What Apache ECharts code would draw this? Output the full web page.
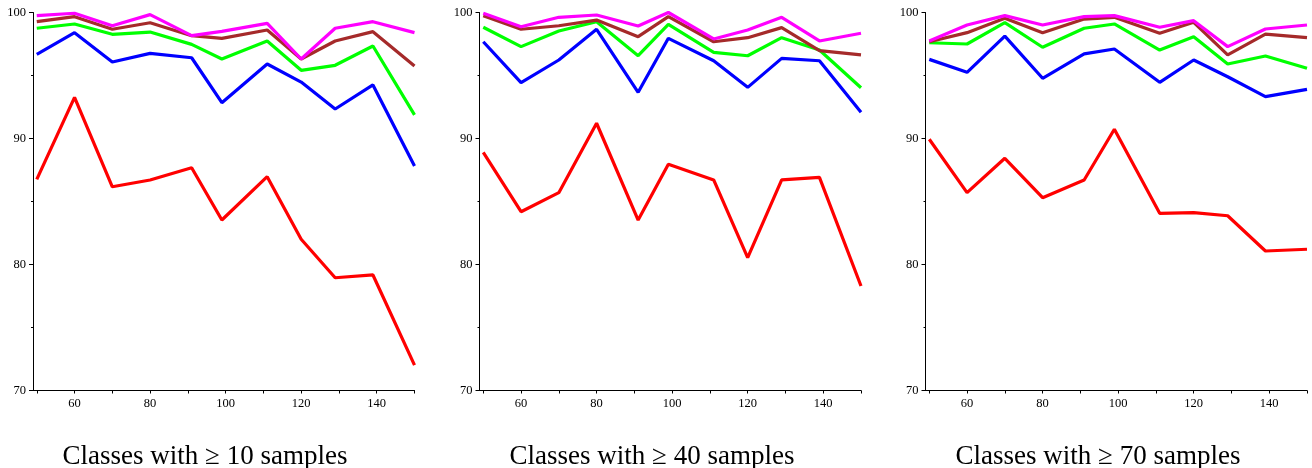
<!DOCTYPE html>
<html>
<head>
<meta charset="utf-8">
<script src="https://cdn.jsdelivr.net/npm/echarts@6/dist/echarts.min.js"></script>
<style>
  html, body { margin: 0; padding: 0; background: #fff; }
  #chart { width: 1312px; height: 468px; }
</style>
</head>
<body>
<div id="chart"></div>
<script>
// x positions of the samples (same for all three panels)
const xs = [50, 60, 70, 80, 91, 99, 111, 120, 129, 139, 150];
const xTicks = [50, 60, 70, 80, 90, 100, 110, 120, 130, 140, 150];
const xLabels = [60, 80, 100, 120, 140];
const titles = ["Classes with \u2265 10 samples", "Classes with \u2265 40 samples", "Classes with \u2265 70 samples"];

// >= 10 samples
const magenta10 = [99.75, 99.94, 98.95, 99.83, 98.16, 98.5, 99.14, 96.31, 98.75, 99.27, 98.4];
const brown10 = [99.27, 99.67, 98.67, 99.19, 98.16, 97.95, 98.61, 96.31, 97.74, 98.48, 95.75];
const green10 = [98.75, 99.09, 98.27, 98.45, 97.47, 96.31, 97.74, 95.41, 95.81, 97.34, 91.87];
const blue10 = [96.68, 98.4, 96.07, 96.76, 96.41, 92.84, 95.91, 94.48, 92.34, 94.25, 87.82];
const red10 = [86.76, 93.27, 86.17, 86.71, 87.68, 83.53, 86.97, 82.0, 78.95, 79.17, 72.02];

// >= 40 samples
const magenta40 = [99.94, 98.87, 99.62, 99.8, 98.93, 100.0, 97.9, 98.61, 99.62, 97.74, 98.35];
const brown40 = [99.75, 98.67, 98.95, 99.4, 98.08, 99.67, 97.68, 98.0, 98.8, 96.97, 96.63];
const green40 = [98.83, 97.29, 98.53, 99.27, 96.57, 99.06, 96.84, 96.57, 98.0, 97.02, 94.03];
const blue40 = [97.68, 94.43, 96.23, 98.67, 93.67, 97.95, 96.17, 94.06, 96.36, 96.17, 92.08];
const red40 = [88.9, 84.19, 85.7, 91.21, 83.53, 87.95, 86.71, 80.54, 86.71, 86.92, 78.29];

// >= 70 samples
const magenta70 = [97.74, 99.01, 99.75, 99.01, 99.67, 99.75, 98.83, 99.35, 97.29, 98.69, 99.01];
const brown70 = [97.68, 98.4, 99.54, 98.4, 99.48, 99.62, 98.35, 99.22, 96.63, 98.29, 98.0];
const green70 = [97.6, 97.5, 99.19, 97.24, 98.75, 99.09, 97.02, 98.08, 95.91, 96.55, 95.57];
const blue70 = [96.28, 95.25, 98.13, 94.78, 96.71, 97.1, 94.46, 96.23, 94.9, 93.32, 93.9];
const red70 = [89.94, 85.7, 88.43, 85.3, 86.71, 90.73, 84.06, 84.11, 83.87, 81.07, 81.21];

const panels = [
  [red10, blue10, green10, brown10, magenta10],
  [red40, blue40, green40, brown40, magenta40],
  [red70, blue70, green70, brown70, magenta70],
];
const colors = ["#ff0000", "#0000ff", "#00ff00", "#a52a2a", "#ff00ff"];

const FONT = "'Liberation Serif', 'DejaVu Serif', serif";
const gridLefts = [33, 479.5, 925.5];
const titleCenters = [205, 652, 1098];

const chart = echarts.init(document.getElementById("chart"));

const grid = gridLefts.map((left) => ({ left: left, top: 12.5, width: 381.5, height: 378 }));

const xAxis = gridLefts.map((_, i) => ({
  type: "value",
  gridIndex: i,
  min: 49,
  max: 150,
  axisLine: { lineStyle: { color: "#000", width: 1 } },
  axisTick: { customValues: xTicks, length: 3, lineStyle: { color: "#000" } },
  axisLabel: { customValues: xLabels, color: "#000", fontFamily: FONT, fontSize: 12.5, margin: 7 },
  splitLine: { show: false },
}));

const yAxis = gridLefts.map((_, i) => ({
  type: "value",
  gridIndex: i,
  min: 70,
  max: 100,
  interval: 10,
  axisLine: { show: true, lineStyle: { color: "#000", width: 1 } },
  axisTick: { show: true, length: 4, lineStyle: { color: "#000" } },
  minorTick: { show: true, splitNumber: 2, length: 2, lineStyle: { color: "#000" } },
  axisLabel: { color: "#000", fontFamily: FONT, fontSize: 12.5, margin: 7 },
  splitLine: { show: false },
}));

const series = [];
panels.forEach((lines, p) => {
  lines.forEach((vals, k) => {
    series.push({
      type: "line",
      xAxisIndex: p,
      yAxisIndex: p,
      data: xs.map((x, i) => [x, vals[i]]),
      symbol: "none",
      clip: false,
      lineStyle: { color: colors[k], width: 3.2 },
    });
  });
});

chart.setOption({
  animation: false,
  backgroundColor: "#fff",
  title: titles.map((t, i) => ({
    text: t,
    left: titleCenters[i],
    top: 443,
    textAlign: "center",
    padding: 0,
    textStyle: { fontFamily: FONT, fontSize: 27, fontWeight: "normal", color: "#000" },
  })),
  grid: grid,
  xAxis: xAxis,
  yAxis: yAxis,
  series: series,
});
</script>
</body>
</html>
